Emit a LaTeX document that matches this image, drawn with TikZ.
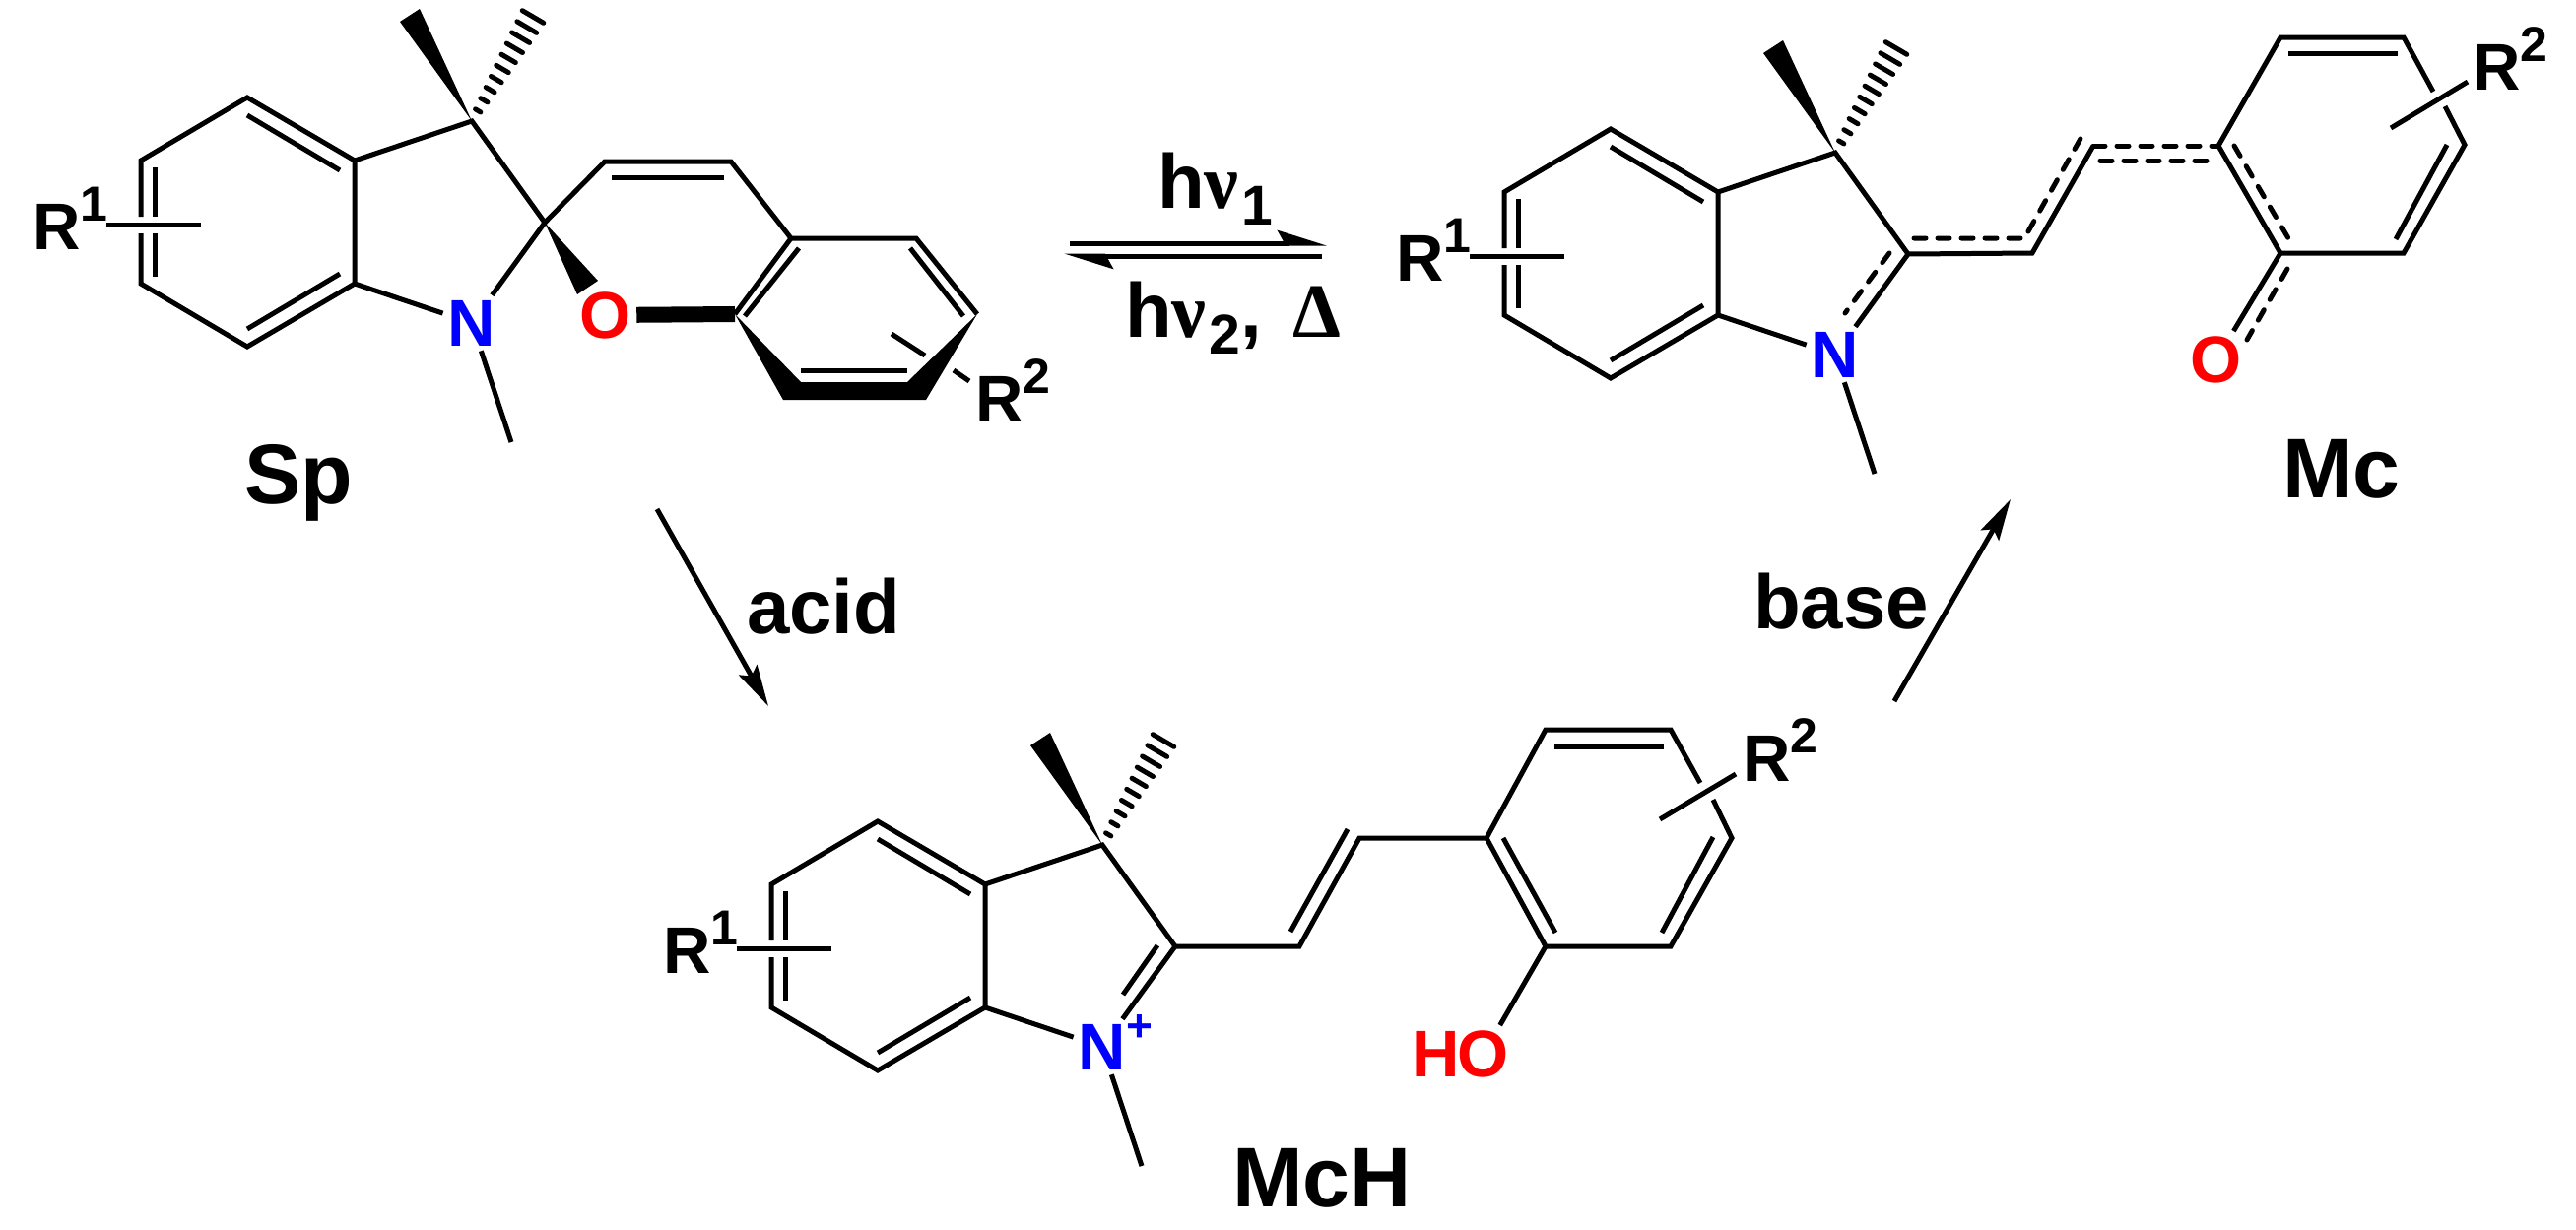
\documentclass[tikz,border=0pt]{standalone}
\usepackage{fontspec}
\setmainfont{Liberation Sans}
\newfontfamily\symfont{Liberation Serif}
\usetikzlibrary{calc,arrows.meta}

\definecolor{nblue}{RGB}{0,0,255}
\definecolor{ored}{RGB}{255,0,0}

\newcommand{\supnum}[1]{\raisebox{.43em}{\fontsize{50}{50}\selectfont #1}}
\newcommand{\subnum}[1]{\kern3pt\raisebox{-17pt}{\fontsize{57}{57}\selectfont #1}}

\tikzset{
    bond/.style={line width=5pt, line join=miter},
    dashbond/.style={bond, line cap=round, dash pattern=on 12pt off 12pt},
    atom/.style={font=\fontsize{67}{67}\selectfont\bfseries, inner sep=5pt},
    rgroup/.style={font=\fontsize{67}{67}\selectfont\bfseries, inner sep=0pt, anchor=base west},
    title/.style={font=\fontsize{86}{86}\selectfont\bfseries, inner sep=0pt, anchor=base west},
    cond/.style={font=\fontsize{78}{78}\selectfont\bfseries, inner sep=0pt, anchor=base west},
    rxnarrow/.style={line width=5pt, -{Stealth[length=42pt, width=21pt, inset=7pt]}},
    eqarrow/.style={line width=5pt, -{Stealth[harpoon, length=42pt, width=26pt, inset=7pt]}},
    indoline/.pic={
        \coordinate (-c3) at (0, 0);
        \coordinate (-c2) at (74, 103);
        \coordinate (-top) at (-228, -24);
        \coordinate (-ur) at (-119, 40);
        \coordinate (-lr) at (-119, 165);
        \coordinate (-bot) at (-228, 229);
        \coordinate (-ll) at (-336, 165);
        \coordinate (-ul) at (-336, 40);
        \coordinate (-me) at (40, 326);
        \coordinate (-hash) at (74.4, -127.2);
        \node[atom, text=nblue] (-n) at (0, 205) {N};
        \node[rgroup] (-rone) at (-446, 130) {R\supnum{1}};

        \draw[bond] (-336, 97) -- (-ul) -- (-top) -- (-ur) -- (-lr) -- (-bot) -- (-ll) -- (-336, 114);
        \draw[bond] (-ur) -- (-c3) -- (-c2) -- (-n);
        \draw[bond] (-lr) -- (-n) -- (-me);
        \draw[bond] (-228, -6) -- (-134, 50);
        \draw[bond] (-228, 211) -- (-134, 155);
        \draw[bond] (-322, 47) -- (-322, 97);
        \draw[bond] (-322, 114) -- (-322, 158);
        \draw[bond] (-371, 105) -- (-275, 105);

        \fill (-c3) -- (-73, -101) -- (-53, -114) -- cycle;
        \foreach \i [evaluate=\i as \halfw using 2+1.05*\i] in {1,...,10}
        \draw[bond, line cap=round] ($(-c3)!\i/12!(-hash)!\halfw pt!90:(-hash)$) -- ($(-c3)!\i/12!(-hash)!\halfw pt!-90:(-hash)$);
    }
}

\begin{document}
\begin{tikzpicture}[x=1pt, y=-1pt]

    \useasboundingbox (0, 0) rectangle (2615, 1248);

    % Sp
    \pic (sp) at (479, 123) {indoline};
    \coordinate (spa) at (614, 164);
    \coordinate (spb) at (742, 164);
    \coordinate (spc) at (803, 242);
    \coordinate (spd) at (930, 242);
    \coordinate (spe) at (992, 319);
    \coordinate (spf) at (921, 388);
    \coordinate (spg) at (813, 388);
    \coordinate (sph) at (746, 319);
    \node[atom, text=ored] (spo) at (615, 320) {O};
    \node[rgroup] (sprtwo) at (990, 428) {R\supnum{2}};
    \node[title] (splabel) at (248, 511) {Sp};

    \draw[bond] (sp-c2) -- (spa) -- (spb) -- (spc) -- (spd) -- (spe);
    \draw[bond] (spc) -- (sph);
    \draw[bond] (621, 180) -- (735, 180);
    \draw[bond] (924, 252) -- (978, 321);
    \draw[bond] (811, 252) -- (756, 321);
    \draw[bond] (813, 376) -- (921, 376);
    \draw[bond] (905, 339) -- (939, 361);
    \draw[bond] (968, 376) -- (984, 387);
    \draw[line width=16pt] (spo) -- (sph);
    \fill (sp-c2) -- (607, 285) -- (586, 299) -- cycle;
    \fill (sph) -- (spg) -- (spf) -- (spe) -- (940, 406) -- (795, 406) -- cycle;

    % Mc
    \pic (mc) at (1863, 155) {indoline};
    \coordinate (mca) at (2063, 257);
    \coordinate (mcb) at (2125, 148);
    \coordinate (mcc) at (2252, 148);
    \coordinate (mcd) at (2315, 38);
    \coordinate (mce) at (2440, 38);
    \coordinate (mcf) at (2502, 147);
    \coordinate (mcg) at (2440, 257);
    \coordinate (mch) at (2315, 257);
    \node[atom, text=ored] (mco) at (2250, 365) {O};
    \node[rgroup] (mcrtwo) at (2510, 91) {R\supnum{2}};
    \node[title] (mclabel) at (2317, 505) {Mc};

    \draw[bond] (mc-c2) -- (mca) -- (mcb);
    \draw[dashbond] (mcb) -- (mcc);
    \draw[bond] (mch) -- (mcc) -- (mcd) -- (mce) -- (2470, 93);
    \draw[bond] (2482, 108) -- (mcf) -- (mcg) -- (mch);
    \draw[bond] (mch) -- (mco);
    \draw[bond] (2323, 54) -- (2434, 54);
    \draw[bond] (2484, 147) -- (2432, 243);
    \draw[bond] (2427, 130) -- (2505, 83);
    \draw[dashbond] (1943, 242) -- (2055, 242) -- (2113, 139);
    \draw[dashbond] (2132, 163) -- (2245, 163);
    \draw[dashbond] (2268, 148) -- (2323, 242);
    \draw[dashbond] (2322, 273) -- (2281, 345);
    \draw[dashbond] (1918, 257) -- (1873, 318);

    % McH
    \pic (mh) at (1119, 858) {indoline};
    \coordinate (mha) at (1319, 961);
    \coordinate (mhb) at (1380, 851);
    \coordinate (mhc) at (1509, 851);
    \coordinate (mhd) at (1569, 741);
    \coordinate (mhe) at (1696, 741);
    \coordinate (mhf) at (1758, 851);
    \coordinate (mhg) at (1696, 961);
    \coordinate (mhi) at (1569, 961);
    \node[atom, text=ored] (mho) at (1506, 1070) {O};
    \node[atom, text=ored] (mhh) at (1458, 1070) {H};
    \node[atom, text=nblue, inner sep=0pt, font=\fontsize{46}{46}\selectfont\bfseries] (mhplus) at (1157, 1044) {+};
    \node[rgroup] (mhrtwo) at (1769, 793) {R\supnum{2}};
    \node[title] (mhlabel) at (1251, 1225) {McH};

    \draw[bond] (mh-c2) -- (mha) -- (mhb) -- (mhc) -- (mhd) -- (mhe) -- (1726, 795);
    \draw[bond] (1739, 812) -- (mhf) -- (mhg) -- (mhi) -- (mhc);
    \draw[bond] (mhi) -- (mho);
    \draw[bond] (1175, 960) -- (1140, 1010);
    \draw[bond] (1310, 946) -- (1368, 842);
    \draw[bond] (1578, 758) -- (1689, 758);
    \draw[bond] (1739, 850) -- (1687, 947);
    \draw[bond] (1526, 851) -- (1579, 947);
    \draw[bond] (1685, 832) -- (1762, 786);

    % arrows
    \coordinate (eqa) at (1086, 247);
    \coordinate (eqb) at (1347, 247);
    \coordinate (eqc) at (1342, 260);
    \coordinate (eqd) at (1080, 260);
    \coordinate (acida) at (667, 517);
    \coordinate (acidb) at (780, 717);
    \coordinate (basea) at (1923, 712);
    \coordinate (baseb) at (2041, 507);
    \draw[eqarrow] (eqa) -- (eqb);
    \draw[eqarrow] (eqc) -- (eqd);
    \draw[rxnarrow] (acida) -- (acidb);
    \draw[rxnarrow] (basea) -- (baseb);

    \node[cond] (hvone) at (1175, 211) {h{\symfont ν}\subnum{1}};
    \node[cond] (hvtwo) at (1142, 342) {h{\symfont ν}\subnum{2},};
    \node[cond] (heat) at (1312, 342) {{\symfont Δ}};
    \node[cond] (acid) at (758, 643) {acid};
    \node[cond] (base) at (1780, 638) {base};

\end{tikzpicture}
\end{document}
